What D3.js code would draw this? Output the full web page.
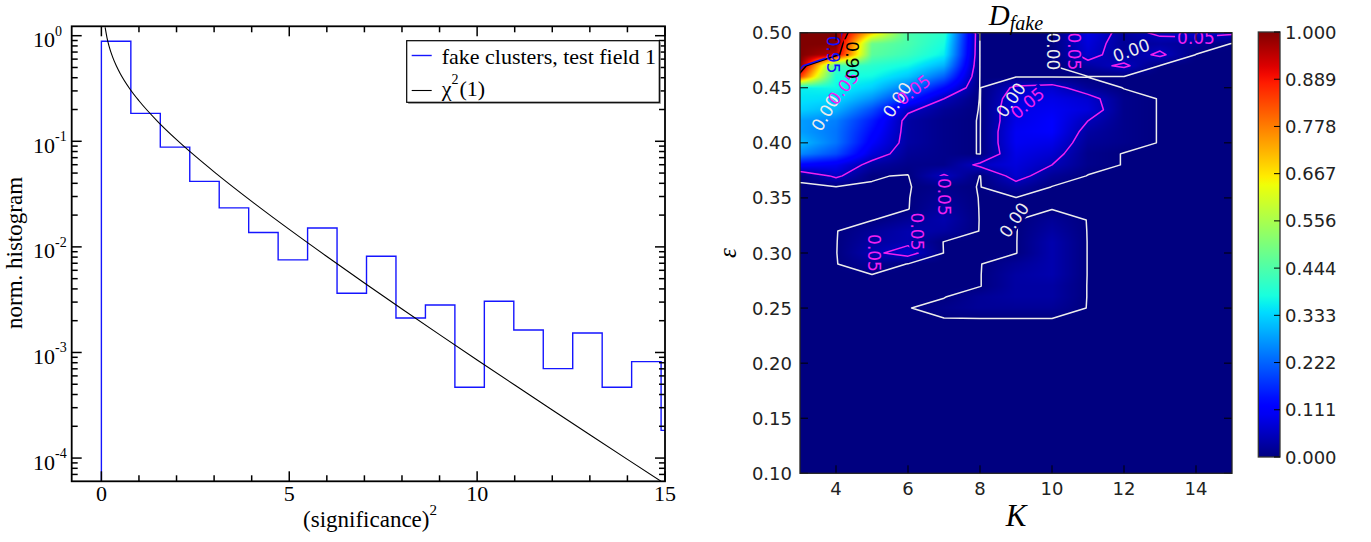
<!DOCTYPE html>
<html>
<head>
<meta charset="utf-8">
<script src="https://cdn.jsdelivr.net/npm/d3@7/dist/d3.min.js"></script>
<style>
  html, body { margin: 0; padding: 0; background: #fff; }
  svg { display: block; }
  .serif { font-family: "Liberation Serif", "Times New Roman", serif; }
  .sans { font-family: "DejaVu Sans", sans-serif; }
</style>
</head>
<body>
<svg id="fig" width="1371" height="542"></svg>
<script>
// ---------------- left panel: normalised histogram of (significance)^2 ----------------
const histBinWidth = 0.784;
const histValues = [0.885, 0.184, 0.0881, 0.0417, 0.0234, 0.01368, 0.00753, 0.0151, 0.00364, 0.00816,
                    0.00212, 0.00282, 0.000468, 0.00306, 0.00163, 0.000703, 0.00153, 0.000468, 0.000819, 0.000183];
// chi-square (1 d.o.f.) density sampled along the curve
const chiX = [0.1, 0.15, 0.2, 0.3, 0.4, 0.5, 0.75, 1, 1.5, 2, 2.5, 3, 4, 5, 6, 7, 8, 9, 10, 11, 12, 13, 14, 15];
const chiY = [1.200, 0.9556, 0.8072, 0.6269, 0.5164, 0.4394, 0.3166, 0.2420, 0.1539, 0.1038, 0.0723, 0.05139,
              0.02700, 0.01464, 0.008109, 0.004553, 0.002584, 0.001477, 0.000850, 0.0004916, 0.0002855,
              0.0001663, 0.00009723, 0.00005697];
const xTicksLeft = [0, 5, 10, 15];
const xMinorLeft = [1, 2, 3, 4, 6, 7, 8, 9, 11, 12, 13, 14];
const yDecadesLeft = [0, -1, -2, -3, -4];
const legendHist = "fake clusters, test field 1";

// ---------------- right panel: D_fake over (K, epsilon) ----------------
const kValues = [3, 4, 5, 6, 7, 8, 9, 10, 11, 12, 13, 14, 15];
const epsValues = [0.50, 0.49, 0.48, 0.47, 0.46, 0.45, 0.44, 0.43, 0.42, 0.41, 0.40, 0.39, 0.38, 0.37, 0.36,
                   0.35, 0.34, 0.33, 0.32, 0.31, 0.30, 0.29, 0.28, 0.27, 0.26, 0.25, 0.24, 0.23, 0.22, 0.21,
                   0.20, 0.19, 0.18, 0.17, 0.16, 0.15, 0.14, 0.13, 0.12, 0.11, 0.10];
const dFake = [
  [1.00, 1.00, 0.70, 0.44, 0.40, 0.00, 0.00, 0.00, 0.09, 0.03, 0.06, 0.07, 0.06],
  [1.00, 1.00, 0.48, 0.44, 0.38, 0.00, 0.00, 0.00, 0.08, 0.02, 0.03, 0.02, 0.00],
  [1.00, 0.95, 0.46, 0.42, 0.36, 0.00, 0.00, 0.00, 0.07, 0.02, 0.06, 0.00, 0.00],
  [1.00, 0.43, 0.40, 0.37, 0.30, 0.00, 0.00, 0.00, 0.03, 0.06, 0.00, 0.00, 0.00],
  [0.85, 0.38, 0.37, 0.32, 0.22, 0.00, 0.00, 0.00, 0.00, 0.00, 0.00, 0.00, 0.00],
  [0.36, 0.37, 0.33, 0.24, 0.13, 0.00, 0.06, 0.07, 0.02, 0.00, 0.00, 0.00, 0.00],
  [0.35, 0.34, 0.27, 0.16, 0.05, 0.00, 0.08, 0.09, 0.07, 0.01, 0.00, 0.00, 0.00],
  [0.33, 0.30, 0.20, 0.06, 0.02, 0.00, 0.09, 0.10, 0.08, 0.01, 0.00, 0.00, 0.00],
  [0.28, 0.25, 0.15, 0.03, 0.01, 0.00, 0.09, 0.11, 0.05, 0.01, 0.00, 0.00, 0.00],
  [0.28, 0.24, 0.13, 0.03, 0.01, 0.00, 0.10, 0.11, 0.03, 0.01, 0.00, 0.00, 0.00],
  [0.31, 0.24, 0.11, 0.03, 0.01, 0.00, 0.10, 0.09, 0.02, 0.01, 0.00, 0.00, 0.00],
  [0.26, 0.20, 0.08, 0.02, 0.01, 0.00, 0.09, 0.07, 0.01, 0.00, 0.00, 0.00, 0.00],
  [0.12, 0.10, 0.03, 0.01, 0.01, 0.06, 0.08, 0.05, 0.01, 0.00, 0.00, 0.00, 0.00],
  [0.0025, 0.06, 0.002, 0.00, 0.056, 0.00, 0.07, 0.02, 0.00, 0.00, 0.00, 0.00, 0.00],
  [0.00, 0.00, 0.00, 0.00, 0.01, 0.00, 0.03, 0.00, 0.00, 0.00, 0.00, 0.00, 0.00],
  [0.00, 0.00, 0.00, 0.00, 0.02, 0.00, 0.00, 0.00, 0.00, 0.00, 0.00, 0.00, 0.00],
  [0.00, 0.00, 0.00, 0.00, 0.03, 0.00, 0.00, 0.00, 0.00, 0.00, 0.00, 0.00, 0.00],
  [0.00, 0.00, 0.00, 0.02, 0.04, 0.00, 0.00, 0.02, 0.00, 0.00, 0.00, 0.00, 0.00],
  [0.00, 0.00, 0.02, 0.04, 0.03, 0.00, 0.00, 0.03, 0.00, 0.00, 0.00, 0.00, 0.00],
  [0.00, 0.00, 0.03, 0.04, 0.00, 0.00, 0.00, 0.04, 0.00, 0.00, 0.00, 0.00, 0.00],
  [0.00, 0.00, 0.04, 0.07, 0.00, 0.00, 0.00, 0.04, 0.00, 0.00, 0.00, 0.00, 0.00],
  [0.00, 0.00, 0.02, 0.00, 0.00, 0.00, 0.02, 0.04, 0.00, 0.00, 0.00, 0.00, 0.00],
  [0.00, 0.00, 0.00, 0.00, 0.00, 0.00, 0.03, 0.04, 0.00, 0.00, 0.00, 0.00, 0.00],
  [0.00, 0.00, 0.00, 0.00, 0.00, 0.00, 0.03, 0.03, 0.00, 0.00, 0.00, 0.00, 0.00],
  [0.00, 0.00, 0.00, 0.00, 0.00, 0.02, 0.03, 0.03, 0.00, 0.00, 0.00, 0.00, 0.00],
  [0.00, 0.00, 0.00, 0.00, 0.01, 0.02, 0.02, 0.02, 0.00, 0.00, 0.00, 0.00, 0.00],
  [0.00, 0.00, 0.00, 0.00, 0.00, 0.00, 0.00, 0.00, 0.00, 0.00, 0.00, 0.00, 0.00],
  [0.00, 0.00, 0.00, 0.00, 0.00, 0.00, 0.00, 0.00, 0.00, 0.00, 0.00, 0.00, 0.00],
  [0.00, 0.00, 0.00, 0.00, 0.00, 0.00, 0.00, 0.00, 0.00, 0.00, 0.00, 0.00, 0.00],
  [0.00, 0.00, 0.00, 0.00, 0.00, 0.00, 0.00, 0.00, 0.00, 0.00, 0.00, 0.00, 0.00],
  [0.00, 0.00, 0.00, 0.00, 0.00, 0.00, 0.00, 0.00, 0.00, 0.00, 0.00, 0.00, 0.00],
  [0.00, 0.00, 0.00, 0.00, 0.00, 0.00, 0.00, 0.00, 0.00, 0.00, 0.00, 0.00, 0.00],
  [0.00, 0.00, 0.00, 0.00, 0.00, 0.00, 0.00, 0.00, 0.00, 0.00, 0.00, 0.00, 0.00],
  [0.00, 0.00, 0.00, 0.00, 0.00, 0.00, 0.00, 0.00, 0.00, 0.00, 0.00, 0.00, 0.00],
  [0.00, 0.00, 0.00, 0.00, 0.00, 0.00, 0.00, 0.00, 0.00, 0.00, 0.00, 0.00, 0.00],
  [0.00, 0.00, 0.00, 0.00, 0.00, 0.00, 0.00, 0.00, 0.00, 0.00, 0.00, 0.00, 0.00],
  [0.00, 0.00, 0.00, 0.00, 0.00, 0.00, 0.00, 0.00, 0.00, 0.00, 0.00, 0.00, 0.00],
  [0.00, 0.00, 0.00, 0.00, 0.00, 0.00, 0.00, 0.00, 0.00, 0.00, 0.00, 0.00, 0.00],
  [0.00, 0.00, 0.00, 0.00, 0.00, 0.00, 0.00, 0.00, 0.00, 0.00, 0.00, 0.00, 0.00],
  [0.00, 0.00, 0.00, 0.00, 0.00, 0.00, 0.00, 0.00, 0.00, 0.00, 0.00, 0.00, 0.00],
  [0.00, 0.00, 0.00, 0.00, 0.00, 0.00, 0.00, 0.00, 0.00, 0.00, 0.00, 0.00, 0.00]
];
const contourLevels = [0.001, 0.05, 0.90, 0.95];
const contourText = ["0.00", "0.05", "0.90", "0.95"];
const contourColors = ["#ececec", "#f020f0", "#000000", "#1010ff"];
// inline contour labels: level index, K, epsilon, rotation (deg)
const contourLabels = [
  [0, 3.7, 0.427, -60], [0, 5.7, 0.439, -57], [0, 8.86, 0.439, -55], [0, 10.02, 0.483, 90],
  [0, 8.95, 0.330, -55], [0, 12.2, 0.484, -20],
  [1, 4.2, 0.450, -50], [1, 6.15, 0.448, -38], [1, 9.32, 0.436, -40], [1, 10.62, 0.483, 90],
  [1, 7.0, 0.351, 90], [1, 6.26, 0.3195, 90], [1, 5.05, 0.300, 90], [1, 14.0, 0.495, 0],
  [3, 3.93, 0.480, 90], [2, 4.44, 0.475, 90]
];
const kTicks = [4, 6, 8, 10, 12, 14];
const epsTicks = [0.10, 0.15, 0.20, 0.25, 0.30, 0.35, 0.40, 0.45, 0.50];
const cbarTicks = [0, 1/9, 2/9, 3/9, 4/9, 5/9, 6/9, 7/9, 8/9, 1];
const cbarTickLabels = ["0.000", "0.111", "0.222", "0.333", "0.444", "0.556", "0.667", "0.778", "0.889", "1.000"];

// jet colormap (piecewise linear segments)
const jetSeg = {
  r: [[0, 0], [0.35, 0], [0.66, 1], [0.89, 1], [1, 0.5]],
  g: [[0, 0], [0.125, 0], [0.375, 1], [0.64, 1], [0.91, 0], [1, 0]],
  b: [[0, 0.5], [0.11, 1], [0.34, 1], [0.65, 0], [1, 0]]
};
function segVal(s, t) {
  if (t <= s[0][0]) return s[0][1];
  for (let i = 1; i < s.length; i++) {
    if (t <= s[i][0]) {
      const a = s[i - 1], b = s[i];
      return a[1] + (b[1] - a[1]) * (t - a[0]) / (b[0] - a[0]);
    }
  }
  return s[s.length - 1][1];
}
function jet(t) {
  t = Math.max(0, Math.min(1, t));
  return [segVal(jetSeg.r, t), segVal(jetSeg.g, t), segVal(jetSeg.b, t)].map(v => Math.round(v * 255));
}

const svg = d3.select("#fig");
const defs = svg.append("defs");

// =============== LEFT PANEL ===============
const L = { x0: 71.7, x1: 665, y0: 26.3, y1: 481.3 };
const xL = d3.scaleLinear().domain([-0.79, 15]).range([L.x0, L.x1]);
const yL = d3.scaleLog().domain([Math.pow(10, -4.22), Math.pow(10, 0.089)]).range([L.y1, L.y0]);

defs.append("clipPath").attr("id", "clipL")
  .append("rect").attr("x", L.x0).attr("y", L.y0).attr("width", L.x1 - L.x0).attr("height", L.y1 - L.y0);

const gL = svg.append("g");
const plotL = gL.append("g").attr("clip-path", "url(#clipL)");

// histogram drawn as a step outline
const yFloor = yL.domain()[0];
const histPts = [[0, yFloor]];
histValues.forEach((v, i) => { histPts.push([i * histBinWidth, v]); histPts.push([(i + 1) * histBinWidth, v]); });
plotL.append("path")
  .attr("d", d3.line().x(d => xL(d[0])).y(d => yL(d[1]))(histPts))
  .attr("fill", "none").attr("stroke", "#1515ff").attr("stroke-width", 1.4);

// chi^2(1) curve
const chiPts = chiX.map((x, i) => [x, chiY[i]]);
plotL.append("path")
  .attr("d", d3.line().x(d => xL(d[0])).y(d => yL(d[1])).curve(d3.curveMonotoneX)(chiPts))
  .attr("fill", "none").attr("stroke", "#000").attr("stroke-width", 1.1);

// ticks (inward on all four sides)
const tk = gL.append("g").attr("stroke", "#000").attr("stroke-width", 1.5);
xTicksLeft.forEach(v => {
  tk.append("line").attr("x1", xL(v)).attr("x2", xL(v)).attr("y1", L.y1).attr("y2", L.y1 - 10);
  tk.append("line").attr("x1", xL(v)).attr("x2", xL(v)).attr("y1", L.y0).attr("y2", L.y0 + 10);
});
xMinorLeft.forEach(v => {
  tk.append("line").attr("x1", xL(v)).attr("x2", xL(v)).attr("y1", L.y1).attr("y2", L.y1 - 6);
  tk.append("line").attr("x1", xL(v)).attr("x2", xL(v)).attr("y1", L.y0).attr("y2", L.y0 + 6);
});
yDecadesLeft.forEach(e => {
  const yy = yL(Math.pow(10, e));
  tk.append("line").attr("x1", L.x0).attr("x2", L.x0 + 10).attr("y1", yy).attr("y2", yy);
  tk.append("line").attr("x1", L.x1).attr("x2", L.x1 - 10).attr("y1", yy).attr("y2", yy);
});
[-5, -4, -3, -2, -1, 0].forEach(e => {
  for (let m = 2; m <= 9; m++) {
    const v = m * Math.pow(10, e);
    if (v < yL.domain()[0] || v > yL.domain()[1]) continue;
    const yy = yL(v);
    tk.append("line").attr("x1", L.x0).attr("x2", L.x0 + 6).attr("y1", yy).attr("y2", yy);
    tk.append("line").attr("x1", L.x1).attr("x2", L.x1 - 6).attr("y1", yy).attr("y2", yy);
  }
});

// frame
gL.append("rect").attr("x", L.x0).attr("y", L.y0).attr("width", L.x1 - L.x0).attr("height", L.y1 - L.y0)
  .attr("fill", "none").attr("stroke", "#000").attr("stroke-width", 1.8);

// tick labels
xTicksLeft.forEach(v => {
  gL.append("text").attr("class", "serif").attr("x", xL(v)).attr("y", 501)
    .attr("text-anchor", "middle").attr("font-size", 22).text(v);
});
yDecadesLeft.forEach(e => {
  const yy = yL(Math.pow(10, e));
  const t = gL.append("text").attr("class", "serif").attr("x", 33).attr("y", yy + 11.5).attr("font-size", 22);
  t.append("tspan").text("10");
  t.append("tspan").attr("font-size", 14).attr("dy", -11.5).text(e);
});

// axis titles
const xt = gL.append("text").attr("class", "serif").attr("x", 370).attr("y", 527)
  .attr("text-anchor", "middle").attr("font-size", 23);
xt.append("tspan").text("(significance)");
xt.append("tspan").attr("font-size", 15).attr("dy", -12).text("2");
gL.append("text").attr("class", "serif").attr("transform", "translate(22,253) rotate(-90)")
  .attr("text-anchor", "middle").attr("font-size", 23).text("norm. histogram");

// legend
const lg = gL.append("g");
lg.append("rect").attr("x", 408.2).attr("y", 42.2).attr("width", 252.6).attr("height", 61.6)
  .attr("fill", "#888").attr("stroke", "none");
lg.append("rect").attr("x", 406.7).attr("y", 40.7).attr("width", 252.6).attr("height", 61.6)
  .attr("fill", "#fff").attr("stroke", "#000").attr("stroke-width", 1.2);
lg.append("line").attr("x1", 411.7).attr("x2", 431.7).attr("y1", 55.5).attr("y2", 55.5)
  .attr("stroke", "#1515ff").attr("stroke-width", 1.4);
lg.append("text").attr("class", "serif").attr("x", 441.7).attr("y", 63.5).attr("font-size", 22).text(legendHist);
lg.append("line").attr("x1", 411.7).attr("x2", 431.7).attr("y1", 90.5).attr("y2", 90.5)
  .attr("stroke", "#000").attr("stroke-width", 1.1);
const chiLab = lg.append("text").attr("class", "serif").attr("x", 441.7).attr("y", 96).attr("font-size", 22);
chiLab.append("tspan").text("χ");
chiLab.append("tspan").attr("font-size", 14).attr("dy", -12).text("2");
chiLab.append("tspan").attr("dy", 12).attr("dx", 1).text("(1)");

// =============== RIGHT PANEL ===============
const R = { x0: 800, x1: 1232, y0: 32.7, y1: 473.3 };
const xR = d3.scaleLinear().domain([3, 15]).range([R.x0, R.x1]);
const yR = d3.scaleLinear().domain([0.10, 0.50]).range([R.y1, R.y0]);
const nK = kValues.length, nE = epsValues.length;
const dK = kValues[1] - kValues[0];
const dE = epsValues[0] - epsValues[1];

function sample(K, e) {
  let gx = (K - kValues[0]) / dK, gy = (epsValues[0] - e) / dE;
  gx = Math.max(0, Math.min(nK - 1, gx));
  gy = Math.max(0, Math.min(nE - 1, gy));
  const i0 = Math.min(nK - 2, Math.floor(gx)), j0 = Math.min(nE - 2, Math.floor(gy));
  const fx = gx - i0, fy = gy - j0;
  const a = dFake[j0][i0], b = dFake[j0][i0 + 1], c = dFake[j0 + 1][i0], d = dFake[j0 + 1][i0 + 1];
  return (a * (1 - fx) + b * fx) * (1 - fy) + (c * (1 - fx) + d * fx) * fy;
}

// heat map raster
const W = Math.round(R.x1 - R.x0), H = Math.round(R.y1 - R.y0);
const cv = document.createElement("canvas");
cv.width = W; cv.height = H;
const ctx = cv.getContext("2d");
const img = ctx.createImageData(W, H);
for (let py = 0; py < H; py++) {
  const e = yR.invert(R.y0 + py + 0.5);
  for (let px = 0; px < W; px++) {
    const K = xR.invert(R.x0 + px + 0.5);
    const col = jet(sample(K, e));
    const o = 4 * (py * W + px);
    img.data[o] = col[0]; img.data[o + 1] = col[1]; img.data[o + 2] = col[2]; img.data[o + 3] = 255;
  }
}
ctx.putImageData(img, 0, 0);

defs.append("clipPath").attr("id", "clipR")
  .append("rect").attr("x", R.x0).attr("y", R.y0).attr("width", R.x1 - R.x0).attr("height", R.y1 - R.y0);

const gR = svg.append("g");
const plotR = gR.append("g").attr("clip-path", "url(#clipR)");
plotR.append("image").attr("x", R.x0).attr("y", R.y0).attr("width", R.x1 - R.x0).attr("height", R.y1 - R.y0)
  .attr("preserveAspectRatio", "none").attr("href", cv.toDataURL());

// contour lines on the (K, epsilon) grid
const flat = [];
dFake.forEach(row => row.forEach(v => flat.push(v)));
const contourGen = d3.contours().size([nK, nE]).thresholds(contourLevels);
const gridToPx = d3.geoTransform({
  point: function (gx, gy) {
    this.stream.point(xR(kValues[0] + (gx - 0.5) * dK), yR(epsValues[0] - (gy - 0.5) * dE));
  }
});
const pathGen = d3.geoPath(gridToPx);
const contours = contourGen(flat);

// labels first (to measure them), then masks that cut the line under each label
const labelG = gR.append("g").attr("clip-path", "url(#clipR)");
const labelBoxes = contourLevels.map(() => []);
contourLabels.forEach(([li, K, e, rot]) => {
  const x = xR(K), y = yR(e);
  const t = labelG.append("text").attr("class", "sans")
    .attr("transform", `translate(${x},${y}) rotate(${rot})`)
    .attr("text-anchor", "middle").attr("dominant-baseline", "central")
    .attr("font-size", 17).attr("fill", contourColors[li]).text(contourText[li]);
  const w = t.node().getComputedTextLength();
  labelBoxes[li].push({ x, y, rot, w });
});

contours.forEach((c, li) => {
  const mask = defs.append("mask").attr("id", "cmask" + li).attr("maskUnits", "userSpaceOnUse")
    .attr("x", 0).attr("y", 0).attr("width", 1371).attr("height", 542);
  mask.append("rect").attr("x", 0).attr("y", 0).attr("width", 1371).attr("height", 542).attr("fill", "#fff");
  labelBoxes[li].forEach(b => {
    mask.append("rect").attr("x", -b.w / 2 - 2).attr("y", -8).attr("width", b.w + 4).attr("height", 16)
      .attr("transform", `translate(${b.x},${b.y}) rotate(${b.rot})`).attr("fill", "#000");
  });
  plotR.append("g").attr("mask", `url(#cmask${li})`)
    .append("path").attr("d", pathGen(c))
    .attr("fill", "none").attr("stroke", contourColors[li]).attr("stroke-width", 1.5)
    .attr("stroke-linejoin", "round");
});
labelG.raise();

// ticks (inward)
const tkR = gR.append("g").attr("stroke", "#000").attr("stroke-width", 1);
kTicks.forEach(v => {
  tkR.append("line").attr("x1", xR(v)).attr("x2", xR(v)).attr("y1", R.y1).attr("y2", R.y1 - 8);
  tkR.append("line").attr("x1", xR(v)).attr("x2", xR(v)).attr("y1", R.y0).attr("y2", R.y0 + 8);
});
epsTicks.forEach(v => {
  tkR.append("line").attr("x1", R.x0).attr("x2", R.x0 + 8).attr("y1", yR(v)).attr("y2", yR(v));
  tkR.append("line").attr("x1", R.x1).attr("x2", R.x1 - 8).attr("y1", yR(v)).attr("y2", yR(v));
});
gR.append("rect").attr("x", R.x0).attr("y", R.y0).attr("width", R.x1 - R.x0).attr("height", R.y1 - R.y0)
  .attr("fill", "none").attr("stroke", "#222").attr("stroke-width", 1.3);

kTicks.forEach(v => {
  gR.append("text").attr("class", "sans").attr("x", xR(v)).attr("y", 495)
    .attr("text-anchor", "middle").attr("font-size", 18).attr("fill", "#222").text(v);
});
epsTicks.forEach(v => {
  gR.append("text").attr("class", "sans").attr("x", 792).attr("y", yR(v))
    .attr("text-anchor", "end").attr("dominant-baseline", "central")
    .attr("font-size", 18).attr("fill", "#222").text(v.toFixed(2));
});

// title and axis labels
const title = gR.append("text").attr("class", "serif").attr("x", 1016).attr("y", 25)
  .attr("text-anchor", "middle").attr("font-style", "italic").attr("font-size", 29);
title.append("tspan").text("D");
title.append("tspan").attr("font-size", 20).attr("dy", 5).text("fake");
gR.append("text").attr("class", "serif").attr("x", 1016).attr("y", 526)
  .attr("text-anchor", "middle").attr("font-style", "italic").attr("font-size", 31).text("K");
gR.append("text").attr("class", "serif").attr("transform", "translate(736,253) rotate(-90)")
  .attr("text-anchor", "middle").attr("font-style", "italic").attr("font-size", 25).text("ε");

// colour bar
const C = { x0: 1258.3, x1: 1280, y0: 32, y1: 457 };
const cbScale = d3.scaleLinear().domain([0, 1]).range([C.y1, C.y0]);
const grad = defs.append("linearGradient").attr("id", "jetGrad")
  .attr("x1", 0).attr("y1", 1).attr("x2", 0).attr("y2", 0);
d3.range(0, 1.0001, 0.02).forEach(t => {
  const c = jet(t);
  grad.append("stop").attr("offset", t).attr("stop-color", `rgb(${c[0]},${c[1]},${c[2]})`);
});
gR.append("rect").attr("x", C.x0).attr("y", C.y0).attr("width", C.x1 - C.x0).attr("height", C.y1 - C.y0)
  .attr("fill", "url(#jetGrad)").attr("stroke", "#333").attr("stroke-width", 1.3);
cbarTicks.forEach((v, i) => {
  const yy = cbScale(v);
  gR.append("line").attr("x1", C.x1).attr("x2", C.x1 - 6).attr("y1", yy).attr("y2", yy)
    .attr("stroke", "#000").attr("stroke-width", 1);
  gR.append("text").attr("class", "sans").attr("x", 1285).attr("y", yy)
    .attr("dominant-baseline", "central").attr("font-size", 18).attr("fill", "#222").text(cbarTickLabels[i]);
});
</script>
</body>
</html>
